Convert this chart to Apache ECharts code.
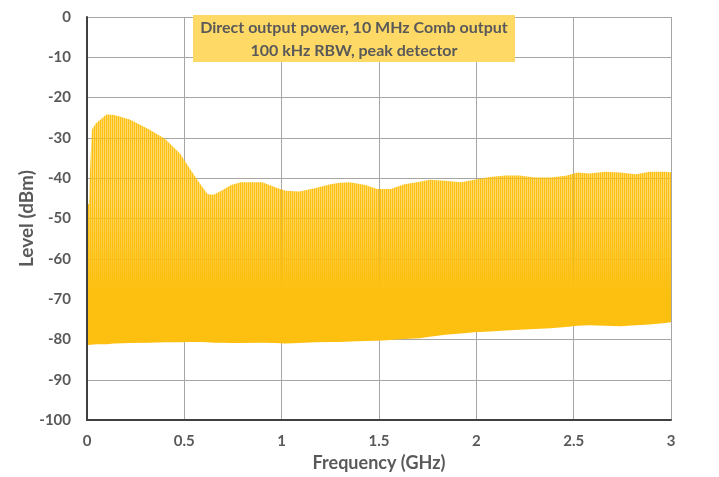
<!DOCTYPE html>
<html>
<head>
<meta charset="utf-8">
<script src="https://cdn.jsdelivr.net/npm/echarts@6/dist/echarts.min.js"></script>
<style>
html,body{margin:0;padding:0;background:#fff;}
#chart{width:719px;height:477px;}
</style>
</head>
<body>
<div id="chart"></div>
<script>
// ---- data ----
var freqGHz = [0, 0.01, 0.015, 0.025, 0.045, 0.1, 0.14, 0.22, 0.32, 0.40, 0.48, 0.53, 0.58, 0.62, 0.65, 0.69, 0.74, 0.79, 0.90, 0.97, 1.02, 1.09, 1.17, 1.25, 1.30, 1.35, 1.43, 1.49, 1.56, 1.63, 1.71, 1.76, 1.84, 1.92, 1.99, 2.07, 2.15, 2.22, 2.30, 2.38, 2.46, 2.52, 2.58, 2.66, 2.74, 2.82, 2.89, 2.97, 3.00];
var peakLevel = [-46.4, -46.4, -39, -28, -26.4, -24.2, -24.3, -25.4, -27.9, -30.2, -34, -37.8, -41.3, -44, -44.1, -43.1, -41.7, -41, -41, -42.3, -43.1, -43.3, -42.5, -41.5, -41.1, -41, -41.7, -42.7, -42.7, -41.5, -40.9, -40.4, -40.6, -41, -40.4, -39.7, -39.3, -39.3, -39.8, -39.8, -39.4, -38.6, -38.8, -38.4, -38.6, -39, -38.4, -38.4, -38.5];
var floorLevel = [-81.4, -81.4, -81.3, -81.3, -81.2, -81.2, -81, -80.9, -80.8, -80.7, -80.7, -80.6, -80.6, -80.7, -80.8, -80.8, -80.9, -80.9, -80.8, -80.9, -81, -80.9, -80.7, -80.6, -80.6, -80.5, -80.4, -80.3, -80.1, -79.9, -79.7, -79.3, -78.8, -78.5, -78.2, -78, -77.8, -77.6, -77.4, -77.2, -76.9, -76.6, -76.5, -76.6, -76.7, -76.5, -76.3, -75.9, -75.7];
var yTicks = {min: -100, max: 0, step: 10};
var xTicks = {min: 0, max: 3, step: 0.5};
var titleLines = ['Direct output power, 10 MHz Comb output', '100 kHz RBW, peak detector'];
var xName = 'Frequency (GHz)';
var yName = 'Level (dBm)';

// ---- styling ----
var FONT = 'Lato, "Liberation Sans", sans-serif';
var TXT = '#595959';
var SAT = [253, 192, 16];

function rgba(c, a) { return 'rgba(' + c.join(',') + ',' + a + ')'; }
// striped fill pattern imitating the dense comb teeth (pale teeth are translucent)
function makePattern() {
  var H = 477;
  var c = document.createElement('canvas');
  c.width = 2; c.height = H;
  var ctx = c.getContext('2d');
  ctx.fillStyle = rgba(SAT, 1);
  ctx.fillRect(0, 0, 1, H);
  for (var y = 0; y < H; y++) {
    var db = -(y - 17) / 4.05;
    var a;
    if (db > -44) a = 0.6;
    else if (db > -68) a = 0.6 + 0.4 * (-44 - db) / 24;
    else a = 1;
    ctx.fillStyle = rgba(SAT, a.toFixed(3));
    ctx.fillRect(1, y, 1, 1);
  }
  return c;
}
var patternCanvas = makePattern();

var bandData = freqGHz.map(function (f, i) { return [f, peakLevel[i], floorLevel[i]]; });

function renderBand(params, api) {
  if (params.dataIndex !== 0) return null;
  var pts = [];
  var i;
  for (i = 0; i < bandData.length; i++) pts.push(api.coord([bandData[i][0], bandData[i][1]]));
  for (i = bandData.length - 1; i >= 0; i--) pts.push(api.coord([bandData[i][0], bandData[i][2]]));
  return {
    type: 'polygon',
    shape: {points: pts},
    style: {fill: {image: patternCanvas, repeat: 'repeat'}}
  };
}

var gridLine = {show: true, lineStyle: {color: '#A6A6A6', width: 1}};
var darkLine = {show: true, onZero: false, lineStyle: {color: '#404040', width: 2}};
var lblStyle = {fontFamily: FONT, fontWeight: 'bold', fontSize: 15, color: TXT};

var chart = echarts.init(document.getElementById('chart'), null, {renderer: 'canvas'});
chart.setOption({
  animation: false,
  backgroundColor: '#ffffff',
  grid: {left: 87, right: 48, top: 17, bottom: 55, containLabel: false},
  xAxis: [
    { // gridlines underneath the spectrum
      type: 'value', position: 'bottom', min: xTicks.min, max: xTicks.max, interval: xTicks.step,
      axisLine: {show: false}, axisTick: {show: false}, axisLabel: {show: false},
      splitLine: gridLine, z: 0
    },
    { // axis line, labels, name on top
      type: 'value', position: 'bottom', offset: 0, min: xTicks.min, max: xTicks.max, interval: xTicks.step,
      name: xName, nameLocation: 'middle', nameGap: 33,
      nameTextStyle: {fontFamily: FONT, fontWeight: 'bold', fontSize: 18, color: TXT},
      axisLine: darkLine, axisTick: {show: false},
      axisLabel: Object.assign({margin: 14}, lblStyle),
      splitLine: {show: false}, z: 5
    }
  ],
  yAxis: [
    {
      type: 'value', position: 'left', min: yTicks.min, max: yTicks.max, interval: yTicks.step,
      axisLine: {show: false}, axisTick: {show: false}, axisLabel: {show: false},
      splitLine: gridLine, z: 0
    },
    {
      type: 'value', position: 'left', offset: 0, min: yTicks.min, max: yTicks.max, interval: yTicks.step,
      name: yName, nameLocation: 'middle', nameGap: 51, nameRotate: 90, nameMoveOverlap: false,
      nameTextStyle: {fontFamily: FONT, fontWeight: 'bold', fontSize: 19, color: TXT},
      axisLine: darkLine, axisTick: {show: false},
      axisLabel: Object.assign({margin: 16}, lblStyle),
      splitLine: {show: false}, z: 5
    }
  ],
  series: [
    {
      type: 'custom', data: bandData, renderItem: renderBand, silent: true,
      xAxisIndex: 0, yAxisIndex: 0,
      encode: {x: 0, y: [1, 2]}, clip: true, z: 2
    }
  ],
  graphic: [
    {type: 'rect', z: 100, shape: {x: 193, y: 15, width: 322, height: 47}, style: {fill: '#FFD966'}},
    {type: 'text', z: 101, x: 354, y: 28, style: {text: titleLines[0], fill: TXT, font: 'bold 16px ' + FONT, textAlign: 'center', textVerticalAlign: 'middle'}},
    {type: 'text', z: 101, x: 354, y: 51, style: {text: titleLines[1], fill: TXT, font: 'bold 16px ' + FONT, textAlign: 'center', textVerticalAlign: 'middle'}}
  ]
});
</script>
</body>
</html>
